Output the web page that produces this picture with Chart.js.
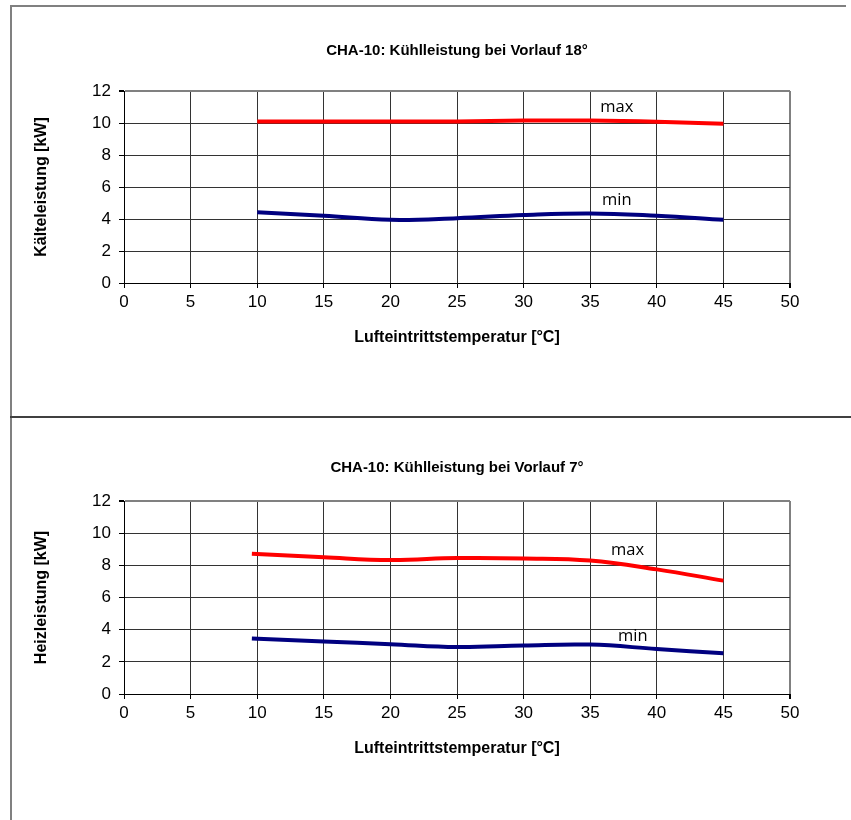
<!DOCTYPE html>
<html>
<head>
<meta charset="utf-8">
<script src="https://cdn.jsdelivr.net/npm/chart.js@4/dist/chart.umd.min.js"></script>
<style>
  html, body { margin: 0; padding: 0; background: #fff; }
  body { width: 851px; height: 820px; position: relative; overflow: hidden; }
  .frameTop { position: absolute; left: 10px; top: 5px; width: 836px; height: 2px; background: #808080; }
  .frameLeft { position: absolute; left: 10px; top: 5px; width: 2px; height: 830px; background: #808080; }
  .frameSep { position: absolute; left: 10px; top: 416px; width: 841px; height: 2px; background: #404040; }
  canvas { position: absolute; left: 0; }
  #c1 { top: 0; }
  #c2 { top: 417px; }
</style>
</head>
<body>
<canvas id="c1" width="851" height="417"></canvas>
<canvas id="c2" width="851" height="403"></canvas>
<div class="frameTop"></div>
<div class="frameLeft"></div>
<div class="frameSep"></div>
<script>
// ---- data ----
const xTicks = [0, 5, 10, 15, 20, 25, 30, 35, 40, 45, 50];
const yTicks = [0, 2, 4, 6, 8, 10, 12];

const topX   = [10, 15, 20, 25, 30, 35, 40, 45];
const topMax = [10.1, 10.1, 10.1, 10.1, 10.15, 10.15, 10.08, 9.95];
const topMin = [4.42, 4.2, 3.95, 4.05, 4.25, 4.35, 4.2, 3.95];

const botX   = [9.6, 15, 20, 25, 30, 35, 40, 45];
const botMax = [8.72, 8.5, 8.33, 8.45, 8.43, 8.3, 7.75, 7.05];
const botMin = [3.45, 3.27, 3.1, 2.92, 3.02, 3.07, 2.8, 2.53];

const seriesNames = ['max', 'min'];
const topLabelX = [37.0, 37.0];
const topLabelY = [11.0, 5.15];
const botLabelX = [37.8, 38.2];
const botLabelY = [8.95, 3.56];

const titleTop = 'CHA-10: Kühlleistung bei Vorlauf 18°';
const titleBot = 'CHA-10: Kühlleistung bei Vorlauf 7°';
const yTitleTop = 'Kälteleistung [kW]';
const yTitleBot = 'Heizleistung [kW]';
const xTitle = 'Lufteintrittstemperatur [°C]';

const RED = '#FF0000';
const NAVY = '#000080';
const SANS = '"Liberation Sans", Arial, sans-serif';

function pts(xs, ys) { return xs.map((x, i) => ({ x: x, y: ys[i] })); }

const seriesLabels = {
  id: 'seriesLabels',
  afterDatasetsDraw(chart, args, opts) {
    const ctx = chart.ctx;
    const xs = chart.scales.x, ys = chart.scales.y;
    ctx.save();
    ctx.font = '16.5px "Open Sans", "Noto Sans", sans-serif';
    ctx.fillStyle = '#000';
    ctx.textAlign = 'center';
    ctx.textBaseline = 'middle';
    opts.names.forEach((n, i) => {
      ctx.fillText(n, xs.getPixelForValue(opts.lx[i]), ys.getPixelForValue(opts.ly[i]));
    });
    ctx.restore();
  }
};

function makeChart(id, title, yTitle, xs, maxV, minV, lx, ly, pad) {
  return new Chart(document.getElementById(id), {
    type: 'line',
    data: {
      datasets: [
        { label: 'max', data: pts(xs, maxV), borderColor: RED, borderWidth: 4, tension: 0.4, pointRadius: 0, fill: false },
        { label: 'min', data: pts(xs, minV), borderColor: NAVY, borderWidth: 4, tension: 0.4, pointRadius: 0, fill: false }
      ]
    },
    options: {
      responsive: false,
      animation: false,
      events: [],
      layout: { padding: { left: 20, right: 61, top: 0, bottom: pad.bottom } },
      plugins: {
        legend: { display: false },
        tooltip: { enabled: false },
        title: {
          display: true, text: title, color: '#000', fullSize: false,
          font: { family: SANS, size: 15, weight: 'bold', lineHeight: 1.2 },
          padding: { top: pad.tTop, bottom: pad.tBot }
        },
        seriesLabels: { names: seriesNames, lx: lx, ly: ly }
      },
      scales: {
        x: {
          type: 'linear', min: 0, max: 50,
          afterBuildTicks: s => { s.ticks = xTicks.map(v => ({ value: v })); },
          afterFit: s => { s.height = 64; },
          ticks: { color: '#000', font: { family: SANS, size: 17 }, padding: 4, maxRotation: 0 },
          grid: {
            color: c => (c.tick && c.tick.value === 50) ? '#808080' : '#333',
            lineWidth: c => (c.tick && c.tick.value === 50) ? 2 : 1,
            tickColor: '#000', tickLength: 5, drawTicks: true
          },
          border: { color: '#000', width: 1 },
          title: { display: true, text: xTitle, color: '#000', font: { family: SANS, size: 16, weight: 'bold', lineHeight: 1.2 }, padding: { top: 0, bottom: 0 } }
        },
        y: {
          type: 'linear', min: 0, max: 12,
          afterBuildTicks: s => { s.ticks = yTicks.map(v => ({ value: v })); },
          afterFit: s => { s.width = 104; },
          ticks: { color: '#000', font: { family: SANS, size: 17 }, padding: 8 },
          grid: {
            color: c => (c.tick && c.tick.value === 12) ? '#808080' : '#333',
            lineWidth: c => (c.tick && c.tick.value === 12) ? 2 : 1,
            tickColor: '#000', tickLength: 5, drawTicks: true
          },
          border: { color: '#000', width: 1 },
          title: { display: true, text: yTitle, color: '#000', font: { family: SANS, size: 16, weight: 'bold', lineHeight: 1.2 }, padding: { top: 12, bottom: 0 } }
        }
      }
    },
    plugins: [seriesLabels]
  });
}

makeChart('c1', titleTop, yTitleTop, topX, topMax, topMin, topLabelX, topLabelY, { tTop: 42, tBot: 31, bottom: 70 });
makeChart('c2', titleBot, yTitleBot, botX, botMax, botMin, botLabelX, botLabelY, { tTop: 42, tBot: 24, bottom: 62 });
</script>
</body>
</html>
